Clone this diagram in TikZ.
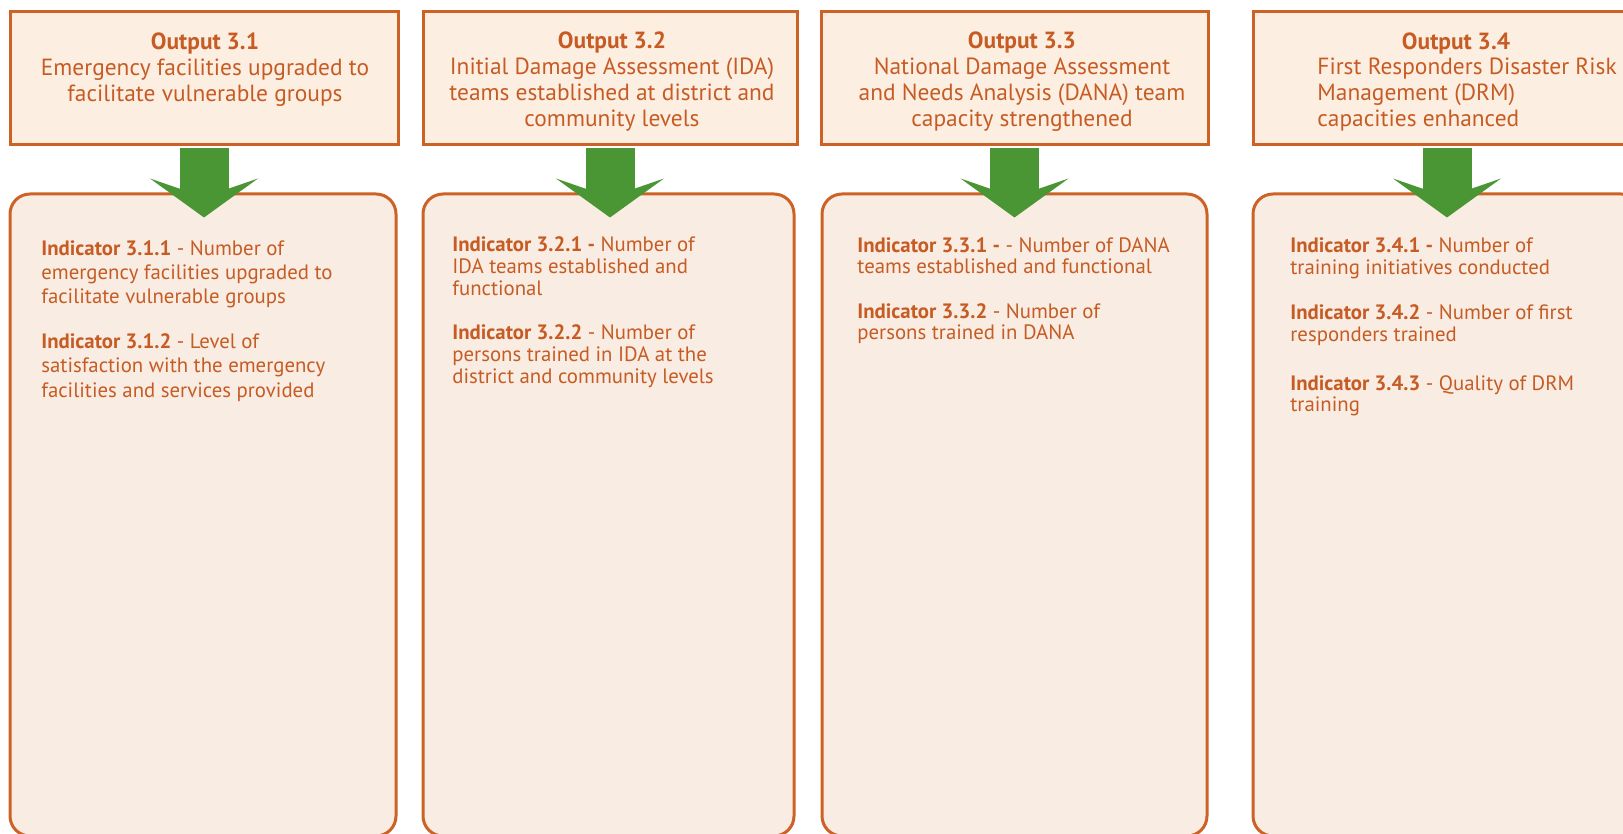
\documentclass[tikz,border=0pt]{standalone}
\usepackage{fontspec}
\setmainfont{PT Sans}
\usepackage{tikz}
\usetikzlibrary{arrows.meta}
\definecolor{boxorange}{RGB}{204,98,38}
\definecolor{textorange}{RGB}{198,92,36}
\definecolor{outfill}{RGB}{253,238,226}
\definecolor{indfill}{RGB}{249,236,226}
\definecolor{arrowgreen}{RGB}{74,150,52}
\tikzset{
	outstyle/.style={rectangle,draw=boxorange,fill=outfill,line width=1.5pt,inner sep=0pt},
	indstyle/.style={rectangle,rounded corners=10pt,draw=boxorange,fill=indfill,line width=1.5pt,inner sep=0pt},
	headstyle/.style={anchor=base,align=center,inner sep=0pt,text=textorange,font=\fontsize{11.7}{13}\selectfont},
	itemstyle/.style={anchor=base west,align=left,inner sep=0pt,text=textorange,font=\fontsize{10.4}{#1}\selectfont},
	arrowstyle/.style={draw=arrowgreen,line width=24.5pt,-{Stealth[length=19.5pt,width=54pt,inset=9.3pt,line width=0pt,fill=arrowgreen]},shorten <=0.75pt,shorten >=-12.5pt}
}

\begin{document}
\begin{tikzpicture}[x=0.5pt,y=-0.5pt]
	\useasboundingbox (0,0) rectangle (1623,834);
	\clip (0,0) rectangle (1623,834);
	\node[outstyle,minimum width=194pt,minimum height=66.5pt] (o1) at (204,78.5) {};
	\node[outstyle,minimum width=187pt,minimum height=66.5pt] (o2) at (610,78.5) {};
	\node[outstyle,minimum width=193.5pt,minimum height=66.5pt] (o3) at (1014.5,78.5) {};
	\node[outstyle,minimum width=194pt,minimum height=66.5pt] (o4) at (1447,78.5) {};
	\node[indstyle,minimum width=193pt,minimum height=321pt] (i1) at (203,515) {};
	\node[indstyle,minimum width=185.5pt,minimum height=321pt] (i2) at (608.5,515) {};
	\node[indstyle,minimum width=192.5pt,minimum height=321pt] (i3) at (1014.5,515) {};
	\node[indstyle,minimum width=194pt,minimum height=321pt] (i4) at (1447,515) {};
	\draw[arrowstyle] (o1.south) -- (o1.south |- i1.north);
	\draw[arrowstyle] (o2.south) -- (o2.south |- i2.north);
	\draw[arrowstyle] (o3.south) -- (o3.south |- i3.north);
	\draw[arrowstyle] (o4.south) -- (o4.south |- i4.north);
	\node[headstyle] (h1) at (205,102) {\textbf{Output 3.1}\\Emergency facilities upgraded to\\facilitate vulnerable groups};
	\node[headstyle] (h2) at (612,127) {\textbf{Output 3.2}\\Initial Damage Assessment (IDA)\\teams established at district and\\community levels};
	\node[headstyle] (h3) at (1022,127) {\textbf{Output 3.3}\\National Damage Assessment\\and Needs Analysis (DANA) team\\capacity strengthened};
	\node[headstyle] (h4) at (1456,50) {\textbf{Output 3.4}};
	\node[headstyle,anchor=base west,align=left] (h4b) at (1317,127) {First Responders Disaster Risk\\Management (DRM)\\capacities enhanced};
	\node[itemstyle=12.25] (t11) at (41,304) {\textbf{Indicator 3.1.1} - Number of\\emergency facilities upgraded to\\facilitate vulnerable groups};
	\node[itemstyle=12.25] (t12) at (41,397) {\textbf{Indicator 3.1.2} - Level of\\satisfaction with the emergency\\facilities and services provided};
	\node[itemstyle=11] (t21) at (452,296) {\textbf{Indicator 3.2.1 -} Number of\\IDA teams established and\\functional};
	\node[itemstyle=11] (t22) at (452,384) {\textbf{Indicator 3.2.2} - Number of\\persons trained in IDA at the\\district and community levels};
	\node[itemstyle=10.25] (t31) at (857,273.5) {\textbf{Indicator 3.3.1 -} - Number of DANA\\teams established and functional};
	\node[itemstyle=10.25] (t32) at (857,339.5) {\textbf{Indicator 3.3.2} - Number of\\persons trained in DANA};
	\node[itemstyle=10.75] (t41) at (1290,274.5) {\textbf{Indicator 3.4.1 -} Number of\\training initiatives conducted};
	\node[itemstyle=10.75] (t42) at (1290,341.5) {\textbf{Indicator 3.4.2} - Number of first\\responders trained};
	\node[itemstyle=10.75] (t43) at (1290,411.5) {\textbf{Indicator 3.4.3} - Quality of DRM\\training};
\end{tikzpicture}
\end{document}
